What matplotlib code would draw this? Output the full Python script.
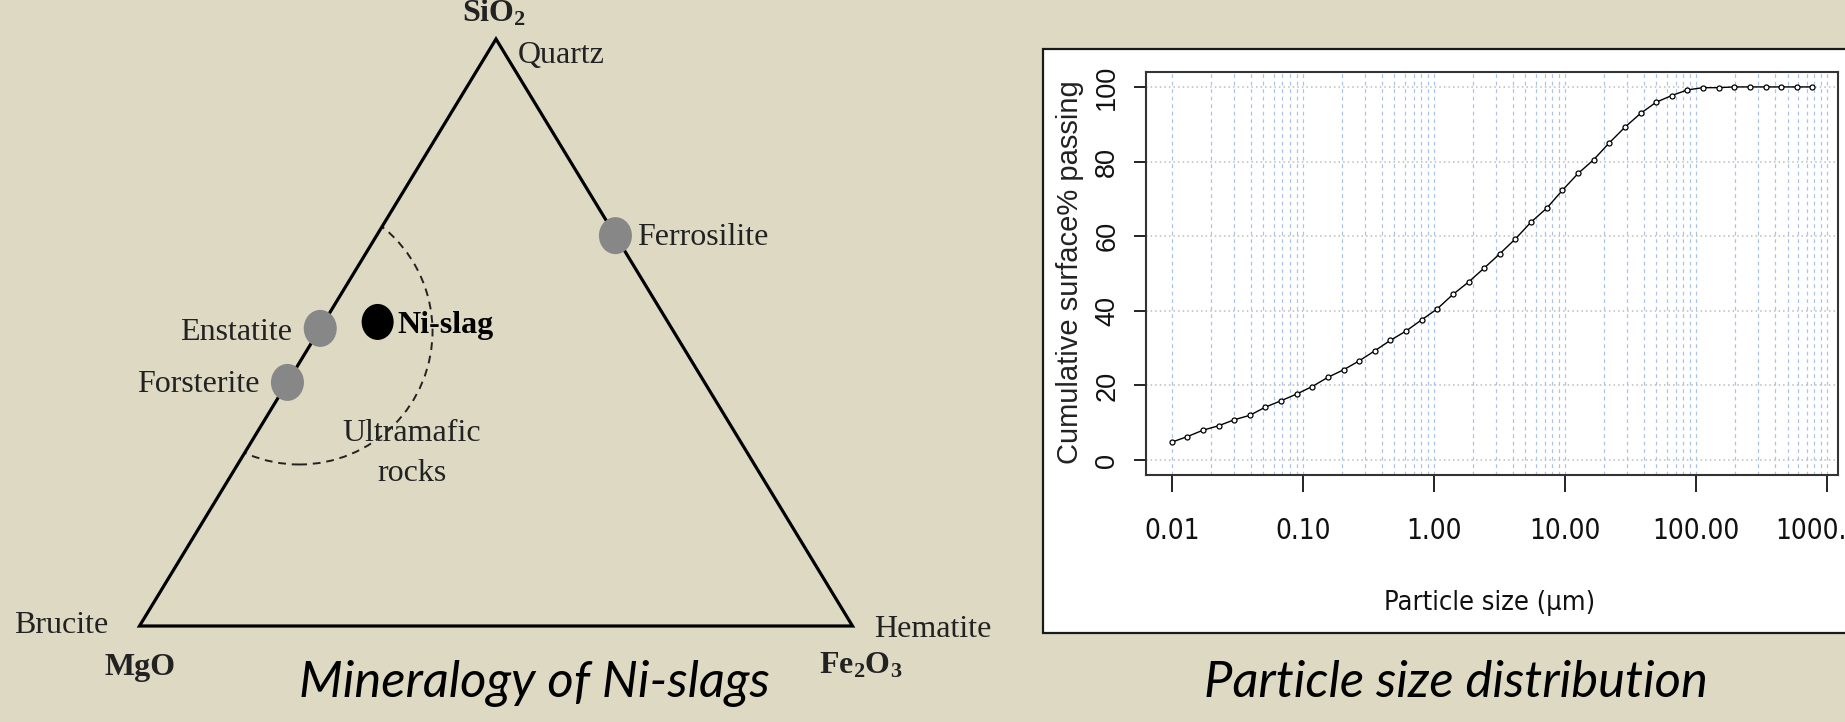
"""Ni-slag figure: ternary mineralogy sketch (left) and particle size distribution (right)."""
import numpy as np
import matplotlib
matplotlib.use("Agg")
import matplotlib.pyplot as plt
from matplotlib.patches import Polygon, Ellipse, Rectangle
from matplotlib.ticker import NullLocator
from matplotlib.transforms import Affine2D

W, H = 1845, 722
BG = "#ddd9c3"
SERIF = "Liberation Serif"
SANS = "Liberation Sans"
NARROW = dict(family="DejaVu Sans", stretch="condensed")
CAPTION = "Lato"

plt.rcParams["mathtext.fontset"] = "custom"
plt.rcParams["mathtext.rm"] = "Liberation Serif:bold"

# --- ternary diagram: fractions of SiO2, MgO, Fe2O3 ---
MINERALS = ["Enstatite", "Forsterite", "Ferrosilite"]
MIN_SIO2 = [0.507, 0.415, 0.665]
MIN_MGO = [0.493, 0.585, 0.0]
MIN_FE2O3 = [0.0, 0.0, 0.335]
SLAG_SIO2, SLAG_MGO, SLAG_FE2O3 = 0.518, 0.407, 0.075
# ultramafic rock field (circle in diagram coords, clipped to the triangle)
ULTRA_X, ULTRA_Y, ULTRA_R = 0.224, 0.435, 0.187

# --- particle size distribution ---
SIZE_UM = [0.0100, 0.0132, 0.0173, 0.0228, 0.0300, 0.0395, 0.0519, 0.0683,
           0.0899, 0.118, 0.156, 0.205, 0.270, 0.355, 0.467, 0.615, 0.809,
           1.06, 1.40, 1.84, 2.43, 3.19, 4.20, 5.53, 7.27, 9.57, 12.6, 16.6,
           21.8, 28.7, 37.8, 49.7, 65.4, 86.1, 113, 149, 196, 258, 340, 447,
           588, 774]
PASSING = [4.8, 6.3, 8.0, 9.2, 10.8, 12.0, 14.2, 15.9, 17.7, 19.7, 22.2, 24.2,
           26.6, 29.3, 32.1, 34.6, 37.6, 40.5, 44.4, 47.7, 51.5, 55.3, 59.3,
           63.8, 67.5, 72.3, 76.8, 80.5, 85.0, 89.2, 92.9, 95.9, 97.7, 99.2,
           99.8, 99.8, 100, 100, 100, 100, 100, 100]


def tern(si, mg, fe):
    si, fe = np.asarray(si, float), np.asarray(fe, float)
    return fe + si / 2, si * np.sqrt(3) / 2


fig = plt.figure(figsize=(W / 100, H / 100), dpi=100, facecolor=BG)
tpx = Affine2D().scale(1 / W, -1 / H).translate(0, 1) + fig.transFigure

# ---------------- left: ternary ----------------
sx, sy = 713.0, 587.0 / (np.sqrt(3) / 2)
ax_t = fig.add_axes([0, 0, 1000 / W, 1])
ax_t.set_xlim(-139.5 / sx, (1000 - 139.5) / sx)
ax_t.set_ylim((626 - H) / sy, 626 / sy)
ax_t.axis("off")

vx, vy = tern([1, 0, 0], [0, 1, 0], [0, 0, 1])
tri = Polygon(np.column_stack([vx, vy]), closed=True, fill=False,
              ec="black", lw=2.3, joinstyle="miter", zorder=2)
ax_t.add_patch(tri)

field = Ellipse((ULTRA_X, ULTRA_Y), 2 * ULTRA_R, 2 * ULTRA_R * sx / sy,
                fill=False, ec="#222222", lw=1.4, ls=(0, (4, 3)), zorder=1)
ax_t.add_patch(field)
field.set_clip_path(tri)

mx, my = tern(MIN_SIO2, MIN_MGO, MIN_FE2O3)
for x, y in zip(mx, my):
    ax_t.add_patch(Ellipse((x, y), 33 / sx, 37 / sy, fc="#878787", ec="none", zorder=3))
nx, ny = tern(SLAG_SIO2, SLAG_MGO, SLAG_FE2O3)
ax_t.add_patch(Ellipse((nx, ny), 32 / sx, 36 / sy, fc="black", ec="none", zorder=3))

lab = dict(transform=tpx, family=SERIF, fontsize=23, color="#222222")
fig.text(494, 22, r"Si$\mathregular{O_2}$", ha="center", va="baseline",
         fontweight="bold", **lab)
fig.text(518, 63, "Quartz", ha="left", va="baseline", **lab)
fig.text(637, 245, "Ferrosilite", ha="left", va="baseline", **lab)
fig.text(292, 340, "Enstatite", ha="right", va="baseline", **lab)
fig.text(260, 392, "Forsterite", ha="right", va="baseline", **lab)
fig.text(397, 333, "Ni-slag", ha="left", va="baseline", fontweight="bold",
         **{**lab, "color": "black"})
fig.text(412, 441, "Ultramafic", ha="center", va="baseline", **lab)
fig.text(412, 481, "rocks", ha="center", va="baseline", **lab)
fig.text(14, 633, "Brucite", ha="left", va="baseline", **lab)
fig.text(874, 637, "Hematite", ha="left", va="baseline", **lab)
fig.text(140, 675, "MgO", ha="center", va="baseline", fontweight="bold", **lab)
fig.text(861, 673, r"Fe$\mathregular{_2}$O$\mathregular{_3}$", ha="center",
         va="baseline", fontweight="bold", **lab)

fig.text(534, 697, "Mineralogy of Ni-slags", transform=tpx, ha="center",
         va="baseline", family=CAPTION, style="italic", fontsize=36.5, color="black")

# ---------------- right: PSD ----------------
fig.add_artist(Rectangle((1043 / W, (H - 633) / H), (1860 - 1043) / W, (633 - 49) / H,
                         transform=fig.transFigure, fc="white", ec="#1a1a1a",
                         lw=1.6, zorder=-1))

ax = fig.add_axes([1146 / W, (H - 475) / H, 692 / W, 403 / H])
ax.set_facecolor("white")
ax.set_xscale("log")
ax.set_xlim(10 ** -2.196, 10 ** 3.084)
ax.set_ylim(-4, 104)

for v in range(0, 101, 20):
    ax.axhline(v, color="#bcbcbc", lw=1.1, ls=(0, (1, 2)), zorder=1)
for e in range(-2, 3):
    for m in range(1, 10):
        ax.axvline(m * 10.0 ** e, color="#aac4e8", lw=0.9, ls=(0, (3, 3)), zorder=1)
ax.axvline(1000, color="#aac4e8", lw=0.9, ls=(0, (3, 3)), zorder=1)

ax.plot(SIZE_UM, PASSING, color="black", lw=1.0, marker="o", ms=3.6,
        mfc="white", mec="black", mew=0.9, zorder=3)

ax.set_xticks([0.01, 0.1, 1, 10, 100, 1000])
ax.set_xticklabels(["0.01", "0.10", "1.00", "10.00", "100.00", "1000.00"],
                   fontsize=20, color="#111111", **NARROW)
ax.xaxis.set_minor_locator(NullLocator())
ax.set_yticks(range(0, 101, 20))
ax.set_yticklabels([str(v) for v in range(0, 101, 20)], rotation=90, va="center",
                   family=SANS, fontsize=19.5, color="#111111")
ax.tick_params(axis="x", length=12.2, width=1.4, pad=18, color="#222222")
ax.tick_params(axis="y", length=8.6, width=1.4, pad=10, color="#222222")
for s in ax.spines.values():
    s.set_linewidth(1.5)
    s.set_color("#333333")

fig.text(1070, 272, "Cumulative surface% passing", transform=tpx, rotation=90,
         ha="center", va="center", family=SANS, fontsize=21, color="#222222")
fig.text(1490, 603, "Particle size (\u00b5m)", transform=tpx, ha="center",
         va="center", fontsize=19.5, color="#111111", **NARROW)

fig.text(1456, 697, "Particle size distribution", transform=tpx, ha="center",
         va="baseline", family=CAPTION, style="italic", fontsize=36.5, color="black")

fig.savefig("out.png", dpi=100, facecolor=BG)
